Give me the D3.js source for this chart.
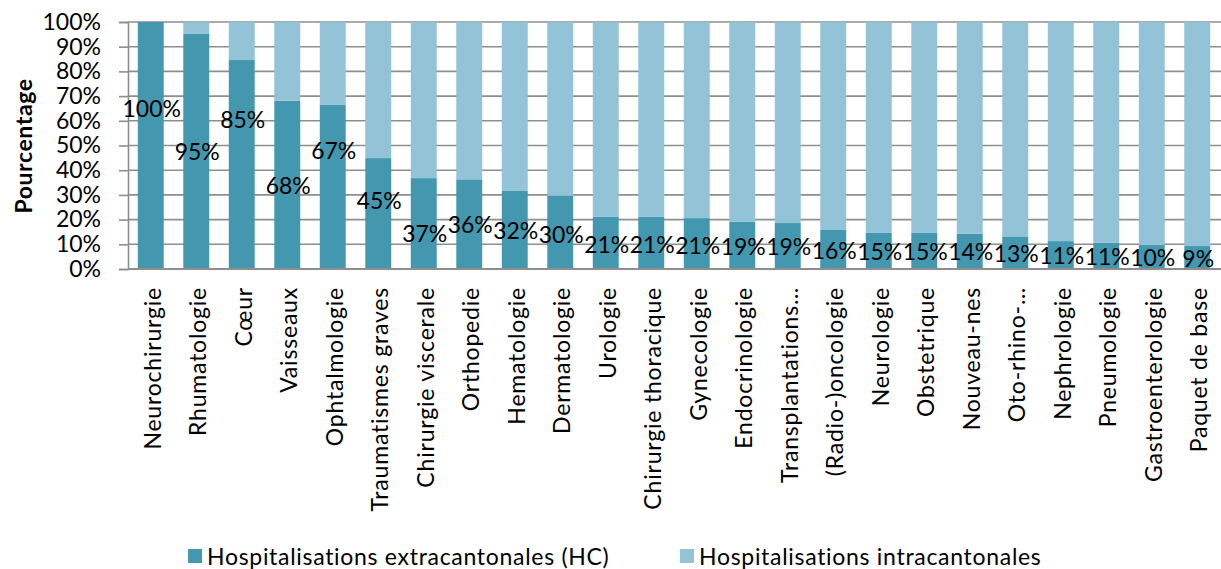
<!DOCTYPE html>
<html>
<head>
<meta charset="utf-8">
<script src="https://cdn.jsdelivr.net/npm/d3@7"></script>
<style>
  html, body { margin: 0; padding: 0; background: #fff; }
  svg { display: block; font-family: Lato, "Open Sans", sans-serif; }
</style>
</head>
<body>
<svg id="chart" width="1221" height="569"></svg>
<script>
// Specialities, sorted by share of extracantonal stays
const categories = [
  "Neurochirurgie", "Rhumatologie", "Cœur", "Vaisseaux", "Ophtalmologie",
  "Traumatismes graves", "Chirurgie viscerale", "Orthopedie", "Hematologie",
  "Dermatologie", "Urologie", "Chirurgie thoracique", "Gynecologie",
  "Endocrinologie", "Transplantations…", "(Radio-)oncologie", "Neurologie",
  "Obstetrique", "Nouveau-nes", "Oto-rhino-…", "Nephrologie", "Pneumologie",
  "Gastroenterologie", "Paquet de base"
];

// Share of extracantonal hospitalisations (HC), in percent
const extraValues = [
  100, 95.3, 84.6, 68.1, 66.6, 44.9, 36.8, 36.3, 31.6, 29.7, 21.1, 21.1,
  20.6, 19.2, 18.6, 15.8, 14.6, 14.6, 14.3, 13.2, 11.3, 10.6, 9.7, 9.3
];

// Share of intracantonal hospitalisations: the remainder up to 100 %
const intraValues = extraValues.map(v => 100 - v);

const seriesNames = ["Hospitalisations extracantonales (HC)", "Hospitalisations intracantonales"];
const yTicks = [0, 10, 20, 30, 40, 50, 60, 70, 80, 90, 100];

// Vertical nudges (px) for value labels that sit away from their segment centre
const labelNudge = [-38, 0, -46, 0, -37, -14, 9, 0, 0, 2, 1, 1, 1, 1, 0, 1, 0, 0, 0, 0, 0, 0, 0, 0];

const colors = ["#4398b0", "#93c3d6"];
const gridColor = "#8e8e8e";

const svg = d3.select("#chart");
const plotLeft = 128, plotRight = 1220, plotTop = 22, plotBottom = 269;

const x = d3.scaleBand()
  .domain(categories)
  .range([plotLeft, plotRight])
  .paddingInner(0.43)
  .paddingOuter(0.215);

const y = d3.scaleLinear().domain([0, 100]).range([plotBottom, plotTop]);

// Gridlines
svg.append("g")
  .selectAll("line")
  .data(yTicks.filter(t => t > 0))
  .join("line")
  .attr("x1", plotLeft).attr("x2", 1221)
  .attr("y1", d => y(d)).attr("y2", d => y(d))
  .attr("stroke", gridColor).attr("stroke-width", 1.6);

// Y axis
const yAxis = d3.axisLeft(y)
  .tickValues(yTicks)
  .tickFormat(d => d + "%")
  .tickSize(9)
  .tickPadding(18);

const gy = svg.append("g").attr("transform", `translate(${plotLeft},0)`).call(yAxis);
gy.select(".domain").attr("stroke", gridColor).attr("stroke-width", 1.6);
gy.selectAll(".tick line").attr("stroke", gridColor).attr("stroke-width", 1.6);
gy.selectAll(".tick text")
  .attr("fill", "#000")
  .style("font-size", "23px")
  .style("font-family", "Lato, sans-serif");

// Stacked bars
const rows = categories.map((c, i) => ({ cat: c, extra: extraValues[i], intra: intraValues[i] }));
const stack = d3.stack().keys(["extra", "intra"])(rows);

svg.append("g")
  .selectAll("g")
  .data(stack)
  .join("g")
  .attr("fill", (d, i) => colors[i])
  .selectAll("rect")
  .data(d => d)
  .join("rect")
  .attr("x", d => x(d.data.cat))
  .attr("width", x.bandwidth())
  .attr("y", d => y(d[1]))
  .attr("height", d => y(d[0]) - y(d[1]));

// Bottom axis line
svg.append("line")
  .attr("x1", plotLeft).attr("x2", 1221)
  .attr("y1", plotBottom).attr("y2", plotBottom)
  .attr("stroke", gridColor).attr("stroke-width", 1.8);

// Value labels on the extracantonal segment
const fmt = d3.format(".0%");
svg.append("g")
  .selectAll("text")
  .data(rows)
  .join("text")
  .attr("x", d => x(d.cat) + x.bandwidth() / 2 + 1)
  .attr("y", (d, i) => y(d.extra / 2) + labelNudge[i])
  .attr("text-anchor", "middle")
  .attr("dominant-baseline", "central")
  .style("font-size", "23px")
  .attr("fill", "#000")
  .text(d => fmt(d.extra / 100));

// Category labels, rotated
svg.append("g")
  .selectAll("text")
  .data(categories)
  .join("text")
  .attr("transform", d => `translate(${x(d) + x.bandwidth() / 2 + 1},287) rotate(-90)`)
  .attr("text-anchor", "end")
  .attr("dominant-baseline", "central")
  .style("font-size", "23px")
  .style("letter-spacing", "0.8px")
  .attr("fill", "#000")
  .text(d => d);

// Y axis title
svg.append("text")
  .attr("transform", `translate(23,146) rotate(-90)`)
  .attr("text-anchor", "middle")
  .attr("dominant-baseline", "central")
  .style("font-size", "23px")
  .style("font-weight", "bold")
  .style("letter-spacing", "0.6px")
  .text("Pourcentage");

// Legend
const legendX = [188, 680];
const lg = svg.append("g")
  .selectAll("g")
  .data(seriesNames)
  .join("g")
  .attr("transform", (d, i) => `translate(${legendX[i]},549)`);
lg.append("rect").attr("width", 14).attr("height", 14).attr("fill", (d, i) => colors[i]);
lg.append("text")
  .attr("x", 19).attr("y", 7)
  .attr("dominant-baseline", "central")
  .style("font-size", "23px")
  .style("letter-spacing", "0.7px")
  .text(d => d);
</script>
</body>
</html>
